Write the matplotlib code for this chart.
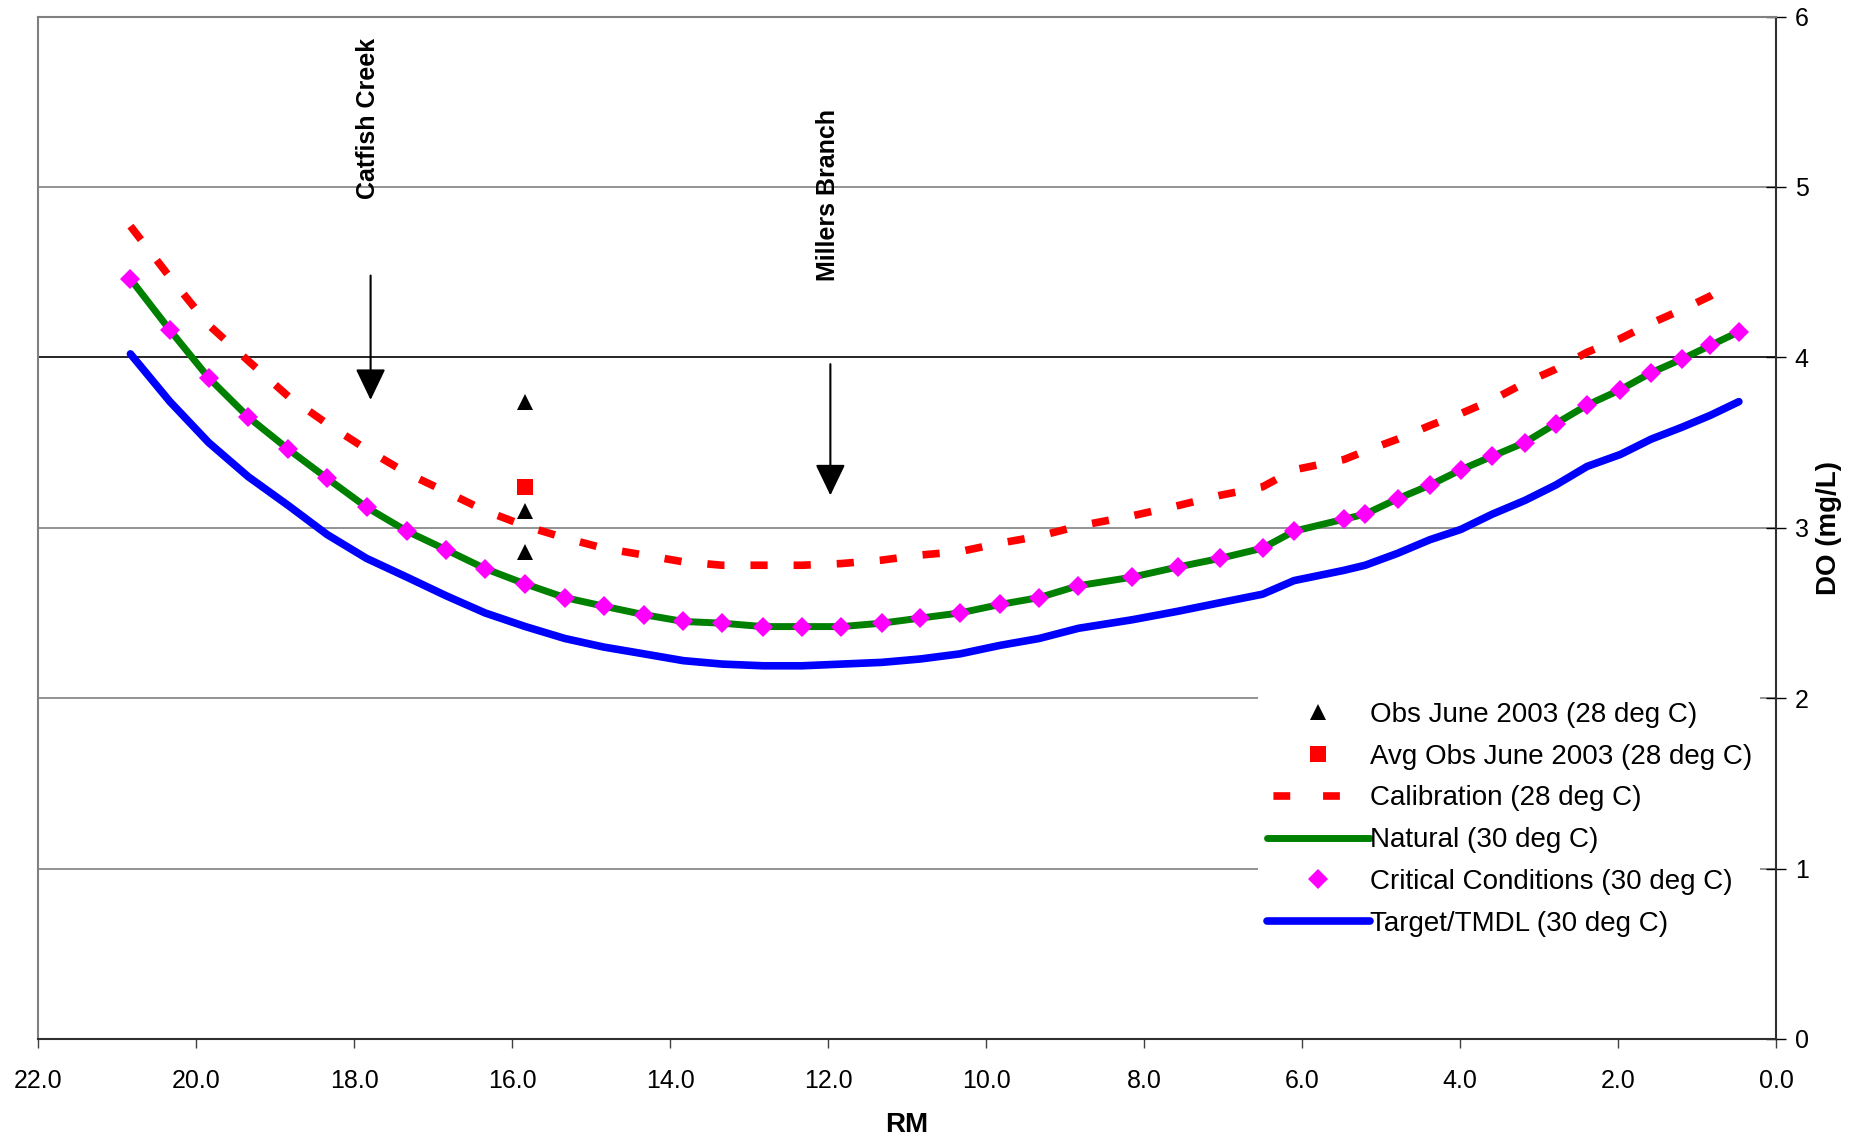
import matplotlib
matplotlib.use("Agg")
import matplotlib.pyplot as plt
from matplotlib.lines import Line2D
from matplotlib.ticker import FormatStrFormatter

plt.rcParams['font.family'] = ['Liberation Sans', 'DejaVu Sans']

# ---------------- data ----------------
rm = [20.83, 20.33, 19.84, 19.34, 18.83, 18.34, 17.84, 17.33, 16.83, 16.34,
      15.83, 15.33, 14.84, 14.33, 13.83, 13.34, 12.82, 12.33, 11.83, 11.32,
      10.83, 10.33, 9.82, 9.33, 8.83, 8.15, 7.57, 7.04, 6.50, 6.10,
      5.47, 5.20, 4.79, 4.38, 3.99, 3.59, 3.18, 2.79, 2.39, 1.97,
      1.58, 1.19, 0.83, 0.47]

critical_do = [4.46, 4.16, 3.88, 3.65, 3.46, 3.29, 3.12, 2.98, 2.87, 2.76,
               2.67, 2.59, 2.54, 2.49, 2.45, 2.44, 2.42, 2.42, 2.42, 2.44,
               2.47, 2.50, 2.55, 2.59, 2.66, 2.71, 2.77, 2.82, 2.88, 2.98,
               3.05, 3.08, 3.17, 3.25, 3.34, 3.42, 3.50, 3.61, 3.72, 3.81,
               3.91, 3.99, 4.07, 4.15]

natural_do = [4.46, 4.16, 3.88, 3.65, 3.46, 3.29, 3.12, 2.98, 2.87, 2.76,
              2.67, 2.59, 2.54, 2.49, 2.45, 2.44, 2.42, 2.42, 2.42, 2.44,
              2.47, 2.50, 2.55, 2.59, 2.66, 2.71, 2.77, 2.82, 2.88, 2.98,
              3.05, 3.08, 3.17, 3.25, 3.34, 3.42, 3.50, 3.61, 3.72, 3.81,
              3.91, 3.99, 4.07, 4.15]

target_do = [4.02, 3.74, 3.50, 3.30, 3.13, 2.96, 2.82, 2.71, 2.60, 2.50,
             2.42, 2.35, 2.30, 2.26, 2.22, 2.20, 2.19, 2.19, 2.20, 2.21,
             2.23, 2.26, 2.31, 2.35, 2.41, 2.46, 2.51, 2.56, 2.61, 2.69,
             2.75, 2.78, 2.85, 2.93, 2.99, 3.08, 3.16, 3.25, 3.36, 3.43,
             3.52, 3.59, 3.66, 3.74]

calib_rm = [20.83, 20.33, 19.84, 19.34, 18.83, 18.34, 17.84, 17.33, 16.83, 16.34,
            15.83, 15.33, 14.84, 14.33, 13.83, 13.34, 12.82, 12.33, 11.83, 11.32,
            10.83, 10.33, 9.82, 9.33, 8.83, 8.15, 7.57, 7.04, 6.50, 6.10,
            5.47, 5.20, 4.79, 4.38, 3.99, 3.59, 3.18, 2.79, 2.39, 1.97,
            1.58, 1.19, 0.83, 0.69]
calib_do = [4.77, 4.47, 4.19, 3.98, 3.77, 3.61, 3.46, 3.32, 3.21, 3.10,
            3.01, 2.94, 2.88, 2.84, 2.80, 2.78, 2.78, 2.78, 2.79, 2.81,
            2.84, 2.86, 2.91, 2.95, 3.01, 3.07, 3.13, 3.19, 3.24, 3.34,
            3.40, 3.45, 3.52, 3.60, 3.67, 3.75, 3.85, 3.93, 4.03, 4.11,
            4.20, 4.28, 4.36, 4.40]

obs_rm = [15.83, 15.83, 15.83]
obs_do = [3.74, 3.10, 2.86]
avg_rm = [15.83]
avg_do = [3.24]

tributaries = ["Catfish Creek", "Millers Branch"]
trib_rm = [17.79, 11.97]
arrow_top = [4.48, 3.96]
arrow_tip = [3.75, 3.19]
label_center = [5.40, 4.95]

x_ticks = [22, 20, 18, 16, 14, 12, 10, 8, 6, 4, 2, 0]
y_ticks = [0, 1, 2, 3, 4, 5, 6]

legend_labels = ['Obs June 2003 (28 deg C)', 'Avg Obs June 2003 (28 deg C)',
                 'Calibration (28 deg C)', 'Natural (30 deg C)',
                 'Critical Conditions (30 deg C)', 'Target/TMDL (30 deg C)']

# ---------------- figure ----------------
fig = plt.figure(figsize=(18.6, 11.37), dpi=100)
ax = fig.add_axes([38/1860, 1 - 1039/1137, (1776-38)/1860, (1039-16.5)/1137])

ax.set_xlim(22, 0)
ax.set_ylim(0, 6)

# grid
for yv in y_ticks[1:-1]:
    col = 'black' if yv == 4 else '#808080'
    ax.axhline(yv, color=col, lw=1.2, zorder=0)

RED, GREEN, BLUE, MAG = '#FF0000', '#008000', '#0000FF', '#FF00FF'

ax.plot(calib_rm, calib_do, color=RED, lw=5.5, dashes=(2.25, 3.4),
        dash_capstyle='butt', zorder=2)
ax.plot(rm, natural_do, color=GREEN, lw=5, solid_capstyle='round',
        solid_joinstyle='round', zorder=3)
ax.plot(rm, critical_do, linestyle='none', marker='D', ms=10, mew=0,
        color=MAG, zorder=4)
ax.plot(rm, target_do, color=BLUE, lw=5.5, solid_capstyle='round',
        solid_joinstyle='round', zorder=3)
ax.plot(obs_rm, obs_do, linestyle='none', marker='^', ms=12, mew=0,
        color='black', zorder=5)
ax.plot(avg_rm, avg_do, linestyle='none', marker='s', ms=11, mew=0,
        color=RED, zorder=5)

# tributary annotations
for name, xr, y0, y1, yc in zip(tributaries, trib_rm, arrow_top, arrow_tip, label_center):
    ax.annotate('', xy=(xr, y1), xytext=(xr, y0),
                arrowprops=dict(arrowstyle='-|>,head_length=0.75,head_width=0.36',
                                lw=1.5, color='black', mutation_scale=26,
                                shrinkA=0, shrinkB=0))
    ax.text(xr + 0.03, yc, name, rotation=90, ha='center', va='center',
            fontsize=18, fontweight='bold')

# axes styling
ax.set_xticks(x_ticks)
ax.xaxis.set_major_formatter(FormatStrFormatter('%.1f'))
ax.set_yticks(y_ticks)
ax.yaxis.tick_right()
ax.yaxis.set_label_position('right')
ax.tick_params(axis='x', direction='out', length=6.5, width=1, pad=15,
               labelsize=18, color='#404040', labelcolor='black')
ax.tick_params(axis='y', direction='inout', length=15, width=1, pad=6,
               labelsize=18)

for side in ['left', 'top']:
    ax.spines[side].set_color('#808080')
    ax.spines[side].set_linewidth(1.5)
for side in ['right', 'bottom']:
    ax.spines[side].set_color('#303030')
    ax.spines[side].set_linewidth(1.5)

ax.set_xlabel('RM', fontsize=20, fontweight='bold', labelpad=14)
ax.set_ylabel('DO (mg/L)', fontsize=20, fontweight='bold', labelpad=5)

# legend (proxy handles mirror the plotted styles)
handles = [
    Line2D([], [], linestyle='none', marker='^', ms=12, mew=0, color='black'),
    Line2D([], [], linestyle='none', marker='s', ms=11, mew=0, color=RED),
    Line2D([], [], color=RED, lw=5.5, linestyle=(5.66, (2.2, 4.3)), dash_capstyle='butt'),
    Line2D([], [], color=GREEN, lw=5, solid_capstyle='round'),
    Line2D([], [], linestyle='none', marker='D', ms=10, mew=0, color=MAG),
    Line2D([], [], color=BLUE, lw=5.5, solid_capstyle='round'),
]
leg = ax.legend(handles, legend_labels, loc='upper left',
                bbox_to_anchor=(0.7022, 0.338), borderaxespad=0, borderpad=0.3,
                fontsize=20, handlelength=3.7, handletextpad=0.0,
                labelspacing=0.57, frameon=True, fancybox=False,
                edgecolor='none', facecolor='white', framealpha=1)
leg.set_zorder(6)

fig.savefig('out.png', dpi=100)
